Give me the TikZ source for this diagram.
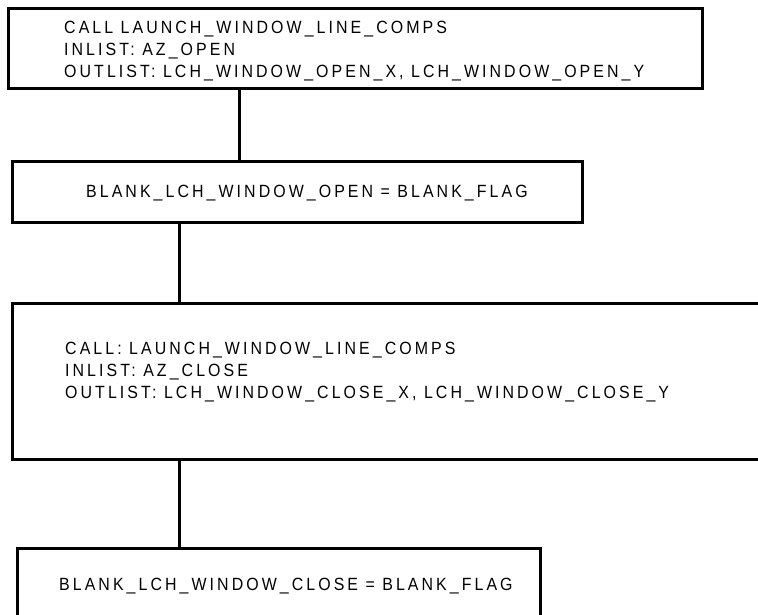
\documentclass[tikz,border=0pt]{standalone}
\usepackage{fontspec}
\setmainfont{Liberation Sans}[FakeStretch=0.9,LetterSpace=17.3]
\usetikzlibrary{positioning}

\begin{document}
\begin{tikzpicture}[x=1pt,y=-1pt,
	box/.style={draw,line width=3pt,inner sep=0pt,outer sep=0pt,anchor=north west},
	txt/.style={inner sep=0pt,align=left,font=\fontsize{17.7pt}{22.4pt}\selectfont},
	flow/.style={line width=3pt}]
	\clip (0,0) rectangle (758,615);

	% boxes
	\node[box,minimum width=694pt,minimum height=80pt] (call1) at (8,9) {};
	\node[box,minimum width=570pt,minimum height=60pt] (blank1) at (12,162) {};
	\node[box,minimum width=800pt,minimum height=156pt] (call2) at (12,303) {};
	\node[box,minimum width=523pt,minimum height=71pt] (blank2) at (17,548) {};

	% texts
	\node[txt,anchor=west] (call1txt) at (64,51) {CALL LAUNCH\_WINDOW\_LINE\_COMPS\\INLIST: AZ\_OPEN\\OUTLIST: LCH\_WINDOW\_OPEN\_X, LCH\_WINDOW\_OPEN\_Y};
	\node[txt,anchor=base west] (blank1txt) at (86,197) {BLANK\_LCH\_WINDOW\_OPEN = BLANK\_FLAG};
	\node[txt,anchor=west] (call2txt) at (65,372) {CALL: LAUNCH\_WINDOW\_LINE\_COMPS\\INLIST: AZ\_CLOSE\\OUTLIST: LCH\_WINDOW\_CLOSE\_X, LCH\_WINDOW\_CLOSE\_Y};
	\node[txt,anchor=base west] (blank2txt) at (59,590) {BLANK\_LCH\_WINDOW\_CLOSE = BLANK\_FLAG};

	% connectors
	\coordinate (k1) at (239,0);
	\coordinate (k2) at (179,0);
	\draw[flow] (call1.south -| k1) -- (blank1.north -| k1);
	\draw[flow] (blank1.south -| k2) -- (call2.north -| k2);
	\draw[flow] (call2.south -| k2) -- (blank2.north -| k2);
\end{tikzpicture}
\end{document}
